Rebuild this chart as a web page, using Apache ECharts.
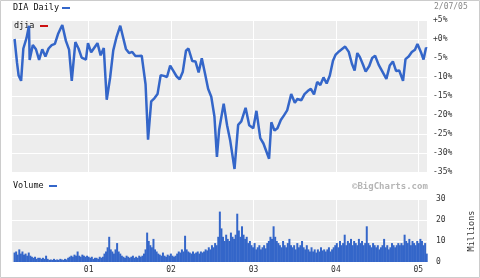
<!DOCTYPE html>
<html><head><meta charset="utf-8">
<script src="https://cdn.jsdelivr.net/npm/echarts@6/dist/echarts.min.js"></script>
<style>html,body{margin:0;padding:0;background:#fff}#c{width:480px;height:278px}</style>
</head><body><div id="c"></div>
<script>
// ---- data ----
const priceDates = [
'2000-02-07','2000-02-18','2000-02-25','2000-03-07','2000-03-17','2000-03-31','2000-04-11','2000-04-14','2000-04-28','2000-05-12','2000-05-26','2000-06-09','2000-06-23','2000-07-07','2000-07-21','2000-08-04','2000-08-18','2000-09-01','2000-09-06','2000-09-22','2000-10-06','2000-10-18','2000-11-03','2000-11-17','2000-12-01','2000-12-20','2000-12-29',
'2001-01-12','2001-01-26','2001-02-09','2001-02-23','2001-03-09','2001-03-22','2001-04-06','2001-04-20','2001-05-04','2001-05-21','2001-06-01','2001-06-15','2001-06-29','2001-07-13','2001-07-27','2001-08-10','2001-08-24','2001-09-10','2001-09-21','2001-10-05','2001-10-19','2001-11-02','2001-11-16','2001-11-30','2001-12-14','2001-12-28',
'2002-01-11','2002-01-25','2002-02-08','2002-02-22','2002-03-08','2002-03-19','2002-04-05','2002-04-19','2002-05-03','2002-05-17','2002-05-31','2002-06-14','2002-06-28','2002-07-12','2002-07-23','2002-08-02','2002-08-22','2002-09-06','2002-09-20','2002-10-09','2002-10-25','2002-11-08','2002-11-27','2002-12-13','2002-12-31',
'2003-01-14','2003-01-31','2003-02-14','2003-03-11','2003-03-21','2003-04-04','2003-04-17','2003-05-02','2003-05-16','2003-05-30','2003-06-17','2003-07-03','2003-07-14','2003-08-01','2003-08-15','2003-08-29','2003-09-12','2003-09-26','2003-10-10','2003-10-24','2003-11-07','2003-11-21','2003-12-05','2003-12-19','2003-12-31',
'2004-01-16','2004-02-11','2004-02-27','2004-03-12','2004-03-24','2004-04-05','2004-04-16','2004-04-30','2004-05-12','2004-05-28','2004-06-10','2004-06-23','2004-07-09','2004-07-23','2004-08-12','2004-08-27','2004-09-10','2004-09-24','2004-10-08','2004-10-25','2004-11-05','2004-11-19','2004-12-03','2004-12-17','2004-12-28',
'2005-01-14','2005-01-24','2005-02-04','2005-02-07'];
const pricePct = [
0,-6.3,-9.6,-11,-2.5,0.2,3.5,-5.5,-1.6,-2.7,-5.5,-2.7,-4.6,-2.5,-1.6,-1.3,1.3,3.1,3.7,-0.5,-2.8,-11,-0.8,-2.5,-4.9,-5.4,-1.1,
-3.5,-2.3,-1.1,-4.3,-2.4,-16,-10.2,-3.0,0.4,3.5,0.8,-2.6,-3.7,-3.4,-4.5,-4.5,-4.4,-11.9,-26.5,-16.4,-15.6,-14.5,-9.5,-9.7,-10.0,-7.0,
-8.4,-9.8,-10.6,-8.6,-3.1,-2.5,-5.8,-5.9,-8.8,-5.1,-9.0,-13.1,-15.2,-20.4,-31,-23.8,-17.0,-22.7,-26.8,-34.2,-22.6,-21.7,-18.1,-22.7,-23.5,
-18.9,-26.1,-27.5,-31.5,-21.9,-24.1,-23.5,-21.3,-20.1,-18.8,-14.5,-16.8,-15.8,-16.1,-14.5,-13.7,-13.1,-14.6,-11.3,-12.1,-10.1,-11.7,-9.6,-5.7,-4.1,
-3.2,-2.0,-3.4,-6.5,-8.3,-3.7,-4.7,-6.7,-8.6,-7.1,-5.0,-4.4,-6.8,-8.3,-10.5,-7.0,-5.9,-8.4,-8.3,-11.0,-5.3,-4.6,-3.4,-2.8,-1.3,
-3.7,-5.4,-2.3,-2.5];

const volStart = '2000-02-07'; // weekly volume, millions
const vol2000 = [4.5,5,3.5,6,4,5,3.5,4,3,4.5,3,2.5, 2,2.5,1.5,2,2,1.5,2,1.5, 3,1.5,1,1.2,1,1.5,1,1.2,1,1.5,1.2,1,1.5,1.2,2, 2.5,3,2.5,3.5,3,5,3,2.5,3.5,3,2.5,3,2.5, 2,2.5,1.5,2];
const vol2001 = [2,1.5,2.5,2,2.5, 4,5,7,12,6,5,4,6,9,5,4, 3,2.5,2,3,2.5,2,2.5,3,2,2.5,2,3,2.5,3,4, 6,14,10,8,7,11,6,5, 4,3.5,3,4.5,3,2.5,3.5,3,4,3,2.5,3,4];
const vol2002 = [5,4.5,6,5,12.5,6,5, 4.5,4,5,4,4.5,5,4,5,4.5, 5,6,5.5,7,6,8,7,9,8,12, 24, 16,12,10,13,11,10,14,12,11,13,23,15,12, 17,13,11,12,9,10, 8,7,9,6,7,8];
const vol2003 = [6,7,8,6.5,9, 10,12,11,17,12,10, 9,8,7,10,8,7,9,11,8,7,8,6,9,7,8,10,7,6,8, 6,5,7,5,6,4.5,6,5,7,5.5,6,5,6,7,5,6,7, 8,9,7,10,8];
const vol2004 = [9,13,8,10,9,11,8,10,9,8,11,9,10,8,9, 17, 9,8,7,9,8,7,8,6,7,8,11,7,8,6,7,9,8,7,8,9,8, 9,8,13,10,9,11,8,10,9,8,10,9,11,10,8];
const vol2005 = [9,4];

const yearTicks = [2001, 2002, 2003, 2004, 2005];
const pctTicks = [5, 0, -5, -10, -15, -20, -25, -30, -35];
const volTicks = [0, 10, 20, 30];

// ---- helpers ----
function toYear(s){
  const d = new Date(s + 'T00:00:00Z');
  const y = d.getUTCFullYear();
  const a = Date.UTC(y,0,1), b = Date.UTC(y+1,0,1);
  return y + (d.getTime()-a)/(b-a);
}
const priceData = priceDates.map((d,i)=>[toYear(d), pricePct[i]]);
const volAll = [].concat(vol2000, vol2001, vol2002, vol2003, vol2004, vol2005);
const vs = new Date(volStart + 'T00:00:00Z').getTime();
const volData = volAll.map((v,i)=>{
  const d = new Date(vs + i*7*86400000);
  return [toYear(d.toISOString().slice(0,10)), v];
});

const FONT = 'DejaVu Sans Mono';
const BLUE = '#3466c9';
const xMin = 2000.07, xMax = 2005.105;

const chart = echarts.init(document.getElementById('c'), null, {renderer:'canvas'});
chart.setOption({
  animation:false,
  backgroundColor:'#fff',
  grid:[
    {left:12, top:20, width:415, height:152, backgroundColor:'#ededed', show:true, borderWidth:0},
    {left:12, top:199, width:415, height:63, backgroundColor:'#ededed', show:true, borderWidth:0}
  ],
  xAxis:[
    {type:'value', gridIndex:0, min:xMin, max:xMax,
     axisLine:{show:false}, axisTick:{show:false, customValues:yearTicks},
     axisLabel:{show:false, customValues:yearTicks},
     splitLine:{show:true, lineStyle:{color:'#ffffff', width:1}}},
    {type:'value', gridIndex:1, min:xMin, max:xMax,
     axisLine:{show:false}, axisTick:{show:false, customValues:yearTicks},
     axisLabel:{show:true, customValues:yearTicks, margin:4, fontFamily:FONT, fontSize:8, color:'#333',
       formatter:v=>String(Math.round(v)).slice(2)},
     splitLine:{show:true, lineStyle:{color:'#ffffff', width:1}}}
  ],
  yAxis:[
    {type:'value', gridIndex:0, position:'right', min:-35, max:5, interval:5,
     axisLine:{show:false}, axisTick:{show:false},
     axisLabel:{margin:6, fontFamily:FONT, fontSize:8, color:'#333',
       formatter:v=> (v>=0?'+':'') + v + '%'},
     splitLine:{show:true, lineStyle:{color:'#ffffff', width:1}}},
    {type:'value', gridIndex:1, position:'right', min:0, max:30, interval:10,
     axisLine:{show:false}, axisTick:{show:false},
     axisLabel:{margin:9, fontFamily:FONT, fontSize:8, color:'#333'},
     splitLine:{show:true, lineStyle:{color:'#ffffff', width:1}}}
  ],
  series:[
    {type:'line', xAxisIndex:0, yAxisIndex:0, data:priceData, symbol:'none',
     lineStyle:{color:BLUE, width:2.5}},
    {type:'bar', xAxisIndex:1, yAxisIndex:1, data:volData, barWidth:2,
     itemStyle:{color:BLUE}}
  ],
  graphic:[
    {type:'rect', shape:{x:0.5,y:0.5,width:479,height:277}, style:{fill:'none', stroke:'#cccccc', lineWidth:1}, silent:true},
    {type:'text', left:13, top:3, style:{text:'DIA Daily', font:'8.5px "DejaVu Sans Mono"', fill:'#111'}},
    {type:'rect', shape:{x:62,y:7,width:8,height:2}, style:{fill:BLUE}},
    {type:'text', left:434, top:3, style:{text:'2/07/05', font:'8px "DejaVu Sans Mono"', fill:'#888'}},
    {type:'text', left:14, top:21, style:{text:'djia', font:'8.5px "DejaVu Sans Mono"', fill:'#111'}},
    {type:'rect', shape:{x:40,y:25,width:8,height:2}, style:{fill:'#cc1111'}},
    {type:'text', left:13, top:181, style:{text:'Volume', font:'8.5px "DejaVu Sans Mono"', fill:'#111'}},
    {type:'rect', shape:{x:49,y:185,width:8,height:2}, style:{fill:BLUE}},
    {type:'text', left:352, top:182, style:{text:'\u00A9BigCharts.com', font:'bold 9px "DejaVu Sans Mono"', fill:'#b5b5b5'}},
    {type:'text', x:472, y:231, rotation:Math.PI/2, style:{text:'Millions', font:'8.5px "DejaVu Sans Mono"', fill:'#333', align:'center', verticalAlign:'middle'}}
  ]
});
</script></body></html>
